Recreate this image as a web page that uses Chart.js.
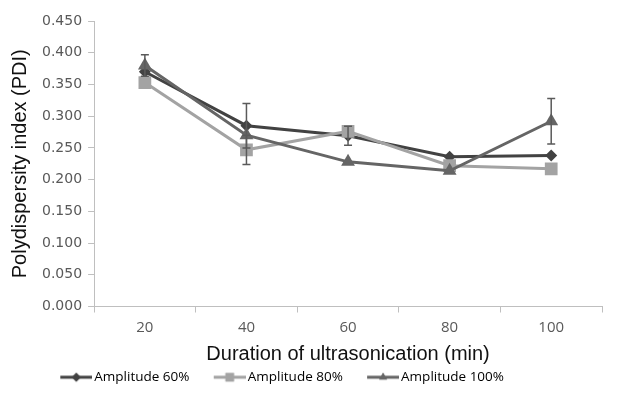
<!DOCTYPE html>
<html lang="en">
<head>
  <meta charset="UTF-8" />
  <title>PDI vs ultrasonication time</title>
  <script src="https://cdn.jsdelivr.net/npm/chart.js"></script>
  <style>
    html, body { margin: 0; padding: 0; background: #fff; }
    #wrap { width: 624px; height: 412px; }
  </style>
</head>
<body>
  <div id="wrap"><canvas id="pdiChart" width="624" height="412"></canvas></div>

  <script>
    // values
    const durations = ['20', '40', '60', '80', '100'];
    const amp60  = [0.370, 0.285, 0.269, 0.236, 0.238];
    const amp80  = [0.353, 0.247, 0.276, 0.222, 0.217];
    const amp100 = [0.380, 0.270, 0.228, 0.214, 0.292];
    // error bar half-widths (0 = not shown)
    const err60  = [0, 0.035, 0.015, 0, 0];
    const err80  = [0, 0.023, 0, 0, 0];
    const err100 = [0.017, 0, 0, 0, 0.036];
    const yTicks = [0, 0.05, 0.1, 0.15, 0.2, 0.25, 0.3, 0.35, 0.4, 0.45];

    const col60 = '#424242', col80 = '#a3a3a3', col100 = '#656565';

    // draws up/down error bars with caps for each series
    const errorBars = {
      id: 'errorBars',
      afterDatasetsDraw(chart) {
        const ctx = chart.ctx;
        const y = chart.scales.y;
        ctx.save();
        ctx.strokeStyle = '#5a5a5a';
        ctx.lineWidth = 1.5;
        chart.data.datasets.forEach((ds, i) => {
          const meta = chart.getDatasetMeta(i);
          ds.errors.forEach((e, j) => {
            if (!e) return;
            const px = meta.data[j].x;
            const top = y.getPixelForValue(ds.data[j] + e);
            const bot = y.getPixelForValue(ds.data[j] - e);
            ctx.beginPath();
            ctx.moveTo(px, top); ctx.lineTo(px, bot);
            ctx.moveTo(px - 4, top); ctx.lineTo(px + 4, top);
            ctx.moveTo(px - 4, bot); ctx.lineTo(px + 4, bot);
            ctx.stroke();
          });
        });
        ctx.restore();
      }
    };

    // nudge the legend left and a little up, like the original
    const legendShift = {
      id: 'legendShift',
      afterLayout(chart) {
        const lg = chart.legend;
        lg.right -= 62;
        lg.top -= 4;
        lg.bottom -= 4;
      }
    };

    // legend icon: short line with the marker; blank on the left so the
    // gap before the text stays small and the gap between items stays wide
    function legendIcon(color, style, radius) {
      const c = document.createElement('canvas');
      c.width = 53; c.height = 14;
      const g = c.getContext('2d');
      g.strokeStyle = color;
      g.lineWidth = 3;
      g.beginPath(); g.moveTo(21, 7); g.lineTo(53, 7); g.stroke();
      g.fillStyle = color;
      Chart.helpers.drawPoint(g, { pointStyle: style, radius: radius, borderWidth: 0 }, 37, 7);
      g.fill();
      return c;
    }

    const datasets = [
      { label: 'Amplitude 60%', data: amp60, errors: err60, color: col60, style: 'rectRot', r: 6, order: 3 },
      { label: 'Amplitude 80%', data: amp80, errors: err80, color: col80, style: 'rect', r: 9, order: 2 },
      { label: 'Amplitude 100%', data: amp100, errors: err100, color: col100, style: 'triangle', r: 8, order: 1 }
    ].map(d => ({
      label: d.label,
      data: d.data,
      errors: d.errors,
      order: d.order,
      borderColor: d.color,
      backgroundColor: d.color,
      borderWidth: 3,
      pointStyle: d.style,
      pointRadius: d.r,
      pointBorderWidth: 0,
      pointBackgroundColor: d.color,
      tension: 0,
      fill: false,
      icon: legendIcon(d.color, d.style, d.style === 'rect' ? 6 : 4.5)
    }));

    new Chart(document.getElementById('pdiChart'), {
      type: 'line',
      data: { labels: durations, datasets: datasets },
      plugins: [errorBars, legendShift],
      options: {
        responsive: false,
        animation: false,
        layout: { padding: { top: 21, right: 22, bottom: 14, left: 8 } },
        plugins: {
          tooltip: { enabled: false },
          legend: {
            position: 'bottom',
            labels: {
              usePointStyle: true,
              pointStyleWidth: 43.5,
              padding: 8,
              color: '#404040',
              font: { family: 'Open Sans', size: 13.5 },
              generateLabels: chart => chart.data.datasets.map((ds, i) => ({
                text: ds.label,
                pointStyle: ds.icon,
                fillStyle: ds.borderColor,
                strokeStyle: ds.borderColor,
                lineWidth: 0,
                datasetIndex: i
              }))
            }
          }
        },
        scales: {
          x: {
            offset: true,
            grid: { display: true, drawOnChartArea: false, offset: true, tickLength: 6, color: '#bfbfbf' },
            border: { color: '#bfbfbf', width: 1 },
            ticks: { color: '#595959', font: { family: 'Open Sans', size: 15 }, padding: 6 },
            title: {
              display: true,
              text: 'Duration of ultrasonication (min)',
              color: '#111',
              font: { family: 'Liberation Sans', size: 20 },
              padding: { top: 0, bottom: 0 }
            }
          },
          y: {
            min: 0,
            max: 0.45,
            afterBuildTicks: scale => { scale.ticks = yTicks.map(v => ({ value: v })); },
            grid: { display: true, drawOnChartArea: false, tickLength: 6, color: '#bfbfbf' },
            border: { color: '#bfbfbf', width: 1 },
            ticks: {
              color: '#595959',
              font: { family: 'DejaVu Sans', size: 14 },
              padding: 6,
              callback: v => Number(v).toFixed(3)
            },
            title: {
              display: true,
              text: 'Polydispersity index (PDI)',
              color: '#111',
              font: { family: 'Liberation Sans', size: 20 },
              padding: { top: 0, bottom: 4 }
            }
          }
        }
      }
    });
  </script>
</body>
</html>
